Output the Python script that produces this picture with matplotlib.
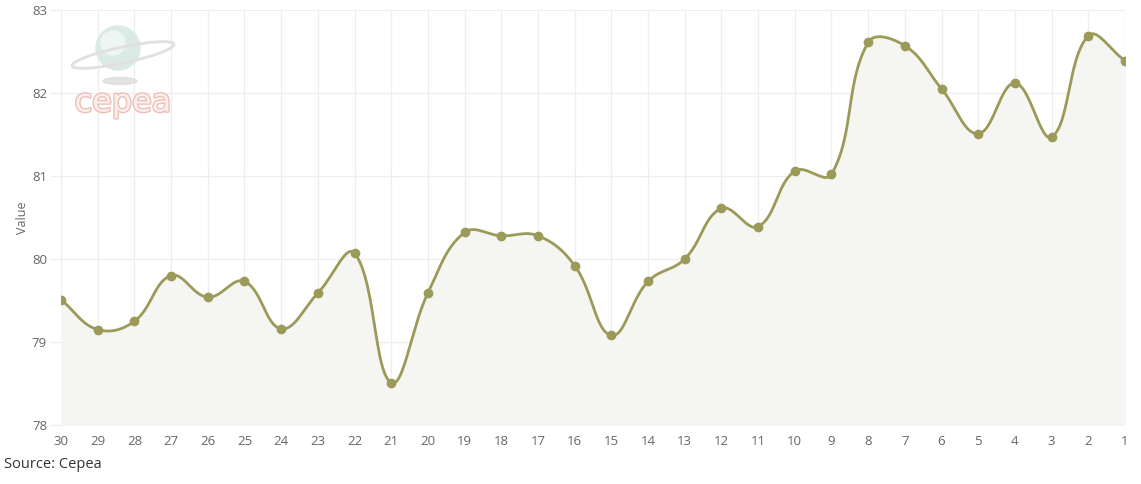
import numpy as np
import matplotlib.pyplot as plt
import matplotlib.patheffects as pe
from matplotlib.patches import Circle, Ellipse

plt.rcParams['font.family'] = ['Open Sans', 'DejaVu Sans']

# Dados (dias, do mais antigo para o mais recente)
days = ['30', '29', '28', '27', '26', '25', '24', '23', '22', '21', '20', '19', '18', '17', '16',
        '15', '14', '13', '12', '11', '10', '9', '8', '7', '6', '5', '4', '3', '2', '1']
values = [79.51, 79.15, 79.25, 79.80, 79.54, 79.73, 79.16, 79.59, 80.07, 78.51,
          79.59, 80.32, 80.28, 80.28, 79.92, 79.08, 79.73, 80.00, 80.61, 80.39,
          81.06, 81.02, 82.61, 82.57, 82.05, 81.51, 82.12, 81.47, 82.69, 82.39]
y_ticks = [78, 79, 80, 81, 82, 83]

line_color = '#9b9a58'


def spline_path(pts, tension=0.4, n=30):
    # curva com tensão (controles calculados em pixels)
    m = len(pts)
    ctrl = []
    for i in range(m):
        cur = pts[i]
        prev = pts[i - 1] if i > 0 else cur
        nxt = pts[i + 1] if i < m - 1 else cur
        d01 = np.hypot(*(cur - prev))
        d12 = np.hypot(*(nxt - cur))
        tot = d01 + d12
        s01 = d01 / tot if tot else 0
        s12 = d12 / tot if tot else 0
        ctrl.append((cur - tension * s01 * (nxt - prev), cur + tension * s12 * (nxt - prev)))
    t = np.linspace(0, 1, n)[1:, None]
    out = [pts[0][None, :]]
    for i in range(1, m):
        p0, p1, p2, p3 = pts[i - 1], ctrl[i - 1][1], ctrl[i][0], pts[i]
        out.append((1 - t) ** 3 * p0 + 3 * (1 - t) ** 2 * t * p1 + 3 * (1 - t) * t ** 2 * p2 + t ** 3 * p3)
    return np.vstack(out)


fig = plt.figure(figsize=(11.41, 4.84), dpi=100)
ax = fig.add_axes([61 / 1141, 59 / 484, 1064 / 1141, 415 / 484])
ax.set_xlim(0, len(days) - 1)
ax.set_ylim(78, 83)

x = np.arange(len(days))
pix = ax.transData.transform(np.column_stack([x, values]))
curve = ax.transData.inverted().transform(spline_path(pix))
sx, sy = curve[:, 0], curve[:, 1]

ax.fill_between(sx, sy, 78, color='#f5f5f1', zorder=1)
ax.plot(sx, sy, color=line_color, lw=2, zorder=3)
ax.plot(x, values, 'o', color=line_color, ms=6, zorder=4)

ax.set_xticks(x)
ax.set_xticklabels(days)
ax.set_yticks(y_ticks)
ax.grid(True, color='#eeeeee', lw=0.9, zorder=0)
ax.set_axisbelow(True)
for s in ax.spines.values():
    s.set_visible(False)
ax.tick_params(axis='x', length=0, pad=7, labelsize=9.5, colors='#666666')
ax.tick_params(axis='y', length=8, width=0.9, color='#eeeeee', pad=2, labelsize=9.5, labelcolor='#666666')
ax.set_ylabel('Value', fontsize=9, color='#666666', labelpad=2)

fig.text(4 / 1141, 1 - 465 / 484, 'Source: Cepea', fontsize=10.5, color='#333333', va='center', ha='left')

# logotipo Cepea (aproximado)
lax = fig.add_axes([70 / 1141, 1 - 115 / 484, 110 / 1141, 105 / 484])
lax.set_xlim(0, 110)
lax.set_ylim(105, 0)
lax.set_aspect('equal')
lax.axis('off')
lax.add_patch(Ellipse((50, 71), 34, 7, color='#dcdcdc', alpha=0.8))
lax.add_patch(Circle((48, 38), 22, color='#dbeae5'))
lax.add_patch(Circle((43, 33), 12, color='#eef6f3'))
lax.add_patch(Ellipse((53, 45), 104, 16, angle=-12, fill=False, ec='#e0e0e0', lw=2))
lax.text(53, 93, 'cepea', fontsize=23, color='#fbefec', ha='center', va='center',
         family='DejaVu Sans', path_effects=[pe.withStroke(linewidth=2, foreground='#eebfb6')])

fig.savefig('out.png', dpi=100)
